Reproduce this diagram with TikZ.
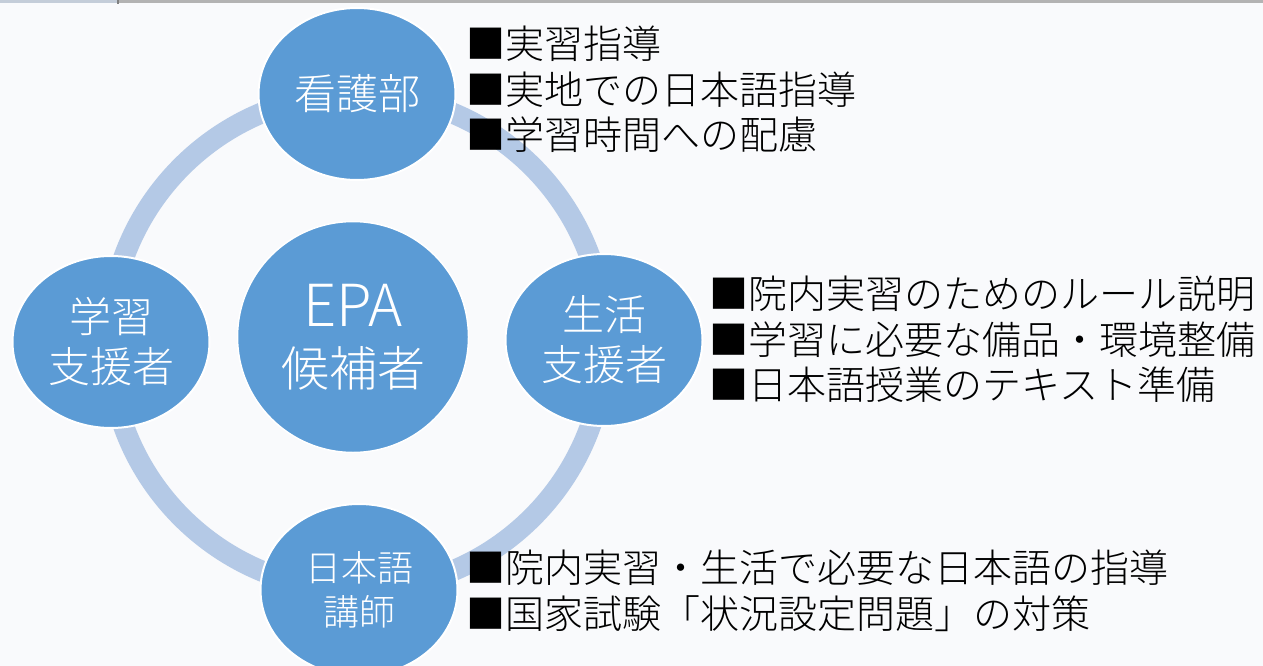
\documentclass[tikz,border=0pt]{standalone}
\usepackage{fontspec}
\setmainfont{Noto Sans CJK JP}[UprightFont=* Light]
\usetikzlibrary{shapes.geometric}
\definecolor{bg}{HTML}{F9FAFC}
\definecolor{nodeblue}{HTML}{5B9BD5}
\definecolor{ringblue}{HTML}{B4C9E6}
\definecolor{topgray}{HTML}{B3B3B3}
\definecolor{tabgray}{HTML}{C4CDD9}
\tikzset{
  role/.style={ellipse, fill=nodeblue, draw=white, line width=2pt,
    minimum width=197pt, minimum height=172pt, inner sep=0pt,
    text=white, align=center, font=\fontsize{42}{50}\selectfont},
  center role/.style={circle, fill=nodeblue, draw=white, line width=1.5pt,
    minimum size=231pt, inner sep=0pt, text=white, align=center,
    font=\fontsize{48}{60}\selectfont},
  bullets/.style={anchor=north west, align=left, inner sep=0pt,
    font=\fontsize{39}{45.5}\selectfont, text=black},
  ring/.style={draw=ringblue, line width=21pt}
}
\begin{document}
\begin{tikzpicture}[x=1pt,y=-1pt]
\useasboundingbox (0,0) rectangle (1263,666);
\fill[bg] (0,0) rectangle (1263,666);
\fill[topgray] (118,0) rectangle (1263,3);
\fill[tabgray] (0,0) rectangle (118,3);
\fill[gray] (117,0) rectangle (119,4);
\coordinate (ringc) at (357,342);
\draw[ring] (ringc) circle[radius=248];
\node[role] (nurse) at (357,94) {看護部};
\node[role] (study) at (111,342) {\raisebox{3pt}{学習}\\\raisebox{3pt}{支援者}};
\node[role] (life) at (604,340) {生活\\支援者};
\node[role, font=\fontsize{36}{44}\selectfont] (teacher) at (359,590) {日本語\\講師};
\node[center role] (epa) at (353,337) {{\fontsize{58}{60}\selectfont EPA}\\候補者};
\node[bullets] (nurselist) at (466,26) {■実習指導\\■実地での日本語指導\\■学習時間への配慮};
\node[bullets] (lifelist) at (709,276) {■院内実習のためのルール説明\\■学習に必要な備品・環境整備\\■日本語授業のテキスト準備};
\node[bullets] (teacherlist) at (466,550) {■院内実習・生活で必要な日本語の指導\\■国家試験「状況設定問題」の対策};
\end{tikzpicture}
\end{document}
